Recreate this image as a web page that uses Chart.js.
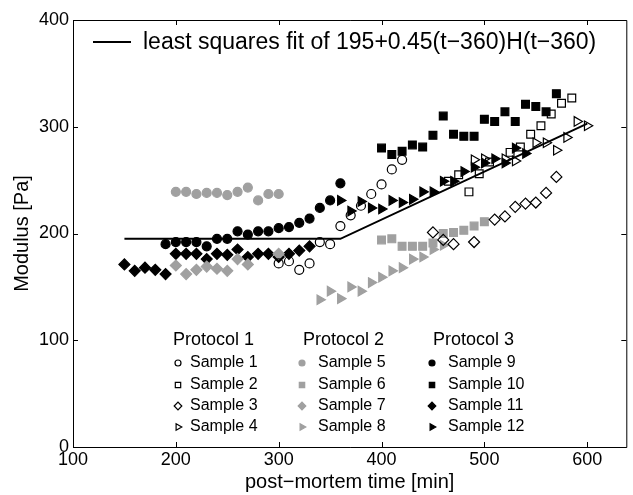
<!DOCTYPE html>
<html>
<head>
<meta charset="utf-8">
<script src="https://cdn.jsdelivr.net/npm/chart.js@4.4.0/dist/chart.umd.min.js"></script>
<style>
  html, body { margin: 0; padding: 0; background: #fff; overflow: hidden; }
</style>
</head>
<body>
<canvas id="grafica" width="633" height="495"></canvas>
<script>
// ticks
const xTicks = [100, 200, 300, 400, 500, 600];
const yTicks = [0, 100, 200, 300, 400];

// fit 195+0.45(t-360)H(t-360)
const fitT = [150, 360, 600];
const fitModulus = [195, 195, 303];

const protocolNames = ['Protocol 1', 'Protocol 2', 'Protocol 3'];
const sampleNames = ['Sample 1', 'Sample 2', 'Sample 3', 'Sample 4',
  'Sample 5', 'Sample 6', 'Sample 7', 'Sample 8',
  'Sample 9', 'Sample 10', 'Sample 11', 'Sample 12'];

// Protocol 1
const s1T = [300, 310, 320, 330, 340, 350, 360, 370, 380, 390, 400, 410, 420];
const s1M = [172, 174, 166, 172, 192, 190, 207, 217, 226, 237, 246, 260, 269];
const s2T = [465, 475, 485, 495, 505, 525, 535, 545, 555, 565, 575, 585];
const s2M = [249, 255, 239, 256, 267, 276, 281, 293, 301, 312, 322, 327];
const s3T = [450, 460, 470, 490, 510, 520, 530, 540, 550, 560, 570];
const s3M = [201, 194, 190, 192, 213, 216, 225, 228, 229, 238, 253];
const s4T = [490, 500, 520, 530, 550, 560, 570, 580, 590, 600];
const s4M = [269, 270, 270, 268, 285, 285, 278, 290, 305, 301];

// Protocol 2
const s5T = [200, 210, 220, 230, 240, 250, 260, 270, 280, 290, 300];
const s5M = [239, 239, 237, 238, 238, 236, 239, 243, 231, 237, 237];
const s6T = [400, 410, 420, 430, 440, 450, 460, 470, 480, 490, 500];
const s6M = [194, 195, 188, 188, 188, 191, 200, 201, 203, 207, 211];
const s7T = [200, 210, 220, 230, 240, 250, 260, 270, 300];
const s7M = [170, 162, 166, 169, 167, 165, 176, 171, 181];
const s8T = [340, 350, 360, 370, 380, 390, 400, 410, 420, 430, 440, 450, 460];
const s8M = [138, 146, 139, 150, 146, 154, 159, 165, 168, 176, 178, 185, 189];

// Protocol 3
const s9T = [190, 200, 210, 220, 230, 240, 250, 260, 270, 280, 290, 300, 310, 320, 330, 340, 350, 360];
const s9M = [190, 192, 192, 192, 188, 195, 195, 202, 199, 202, 202, 205, 206, 210, 214, 224, 231, 247];
const s10T = [400, 410, 420, 430, 440, 450, 460, 470, 480, 490, 500, 510, 520, 530, 540, 550, 560, 570];
const s10M = [280, 274, 277, 283, 281, 292, 310, 293, 291, 291, 307, 305, 314, 305, 321, 319, 314, 331];
const s11T = [150, 160, 170, 180, 190, 200, 210, 220, 230, 240, 250, 260, 270, 280, 290, 300, 310, 320, 330];
const s11M = [171, 165, 168, 166, 162, 181, 181, 181, 176, 181, 180, 185, 178, 181, 181, 178, 181, 184, 188];
const s12T = [360, 370, 380, 390, 400, 410, 420, 430, 440, 450, 460, 470, 480, 490, 500, 510, 520, 530, 540];
const s12M = [231, 221, 230, 224, 223, 231, 229, 232, 239, 239, 249, 249, 258, 262, 266, 270, 266, 280, 275];

const allT = [s1T, s2T, s3T, s4T, s5T, s6T, s7T, s8T, s9T, s10T, s11T, s12T];
const allM = [s1M, s2M, s3M, s4M, s5M, s6M, s7M, s8M, s9M, s10M, s11M, s12M];

const gris = '#a0a0a0';
const FONT = "'Liberation Sans', Arial, sans-serif";

// marcador por fila, color por columna
const estilos = [
  { pointStyle: 'circle', rotation: 0, radius: 4.5 },
  { pointStyle: 'rect', rotation: 0, radius: 5.5 },
  { pointStyle: 'rectRot', rotation: 0, radius: 5.5 },
  { pointStyle: 'triangle', rotation: 90, radius: 5.5 }
];
const columnas = [
  { fill: 'rgba(0,0,0,0)', stroke: '#000' },
  { fill: gris, stroke: gris },
  { fill: '#000', stroke: '#000' }
];

function puntos(ts, ms) {
  return ts.map((t, i) => ({ x: t, y: ms[i] }));
}

const datasets = [{
  type: 'line',
  label: 'fit',
  data: puntos(fitT, fitModulus),
  borderColor: '#000',
  borderWidth: 2,
  pointRadius: 0,
  fill: false,
  tension: 0
}];

allT.forEach((ts, i) => {
  const e = estilos[i % 4];
  const c = columnas[Math.floor(i / 4)];
  datasets.push({
    type: 'scatter',
    label: sampleNames[i],
    data: puntos(ts, allM[i]),
    pointStyle: e.pointStyle,
    rotation: e.rotation,
    pointRadius: e.radius,
    pointHoverRadius: e.radius,
    backgroundColor: c.fill,
    borderColor: c.stroke,
    borderWidth: 1.2
  });
});

function marcador(ctx, e, c, x, y, r) {
  ctx.fillStyle = c.fill;
  ctx.strokeStyle = c.stroke;
  ctx.lineWidth = 1.2;
  Chart.helpers.drawPoint(ctx, { pointStyle: e.pointStyle, rotation: e.rotation, radius: r, borderWidth: 1.2 }, x, y);
}

const marcoPlugin = {
  id: 'marco',
  afterDraw(chart) {
    const { ctx, chartArea: a, scales: { x, y } } = chart;
    ctx.save();
    ctx.strokeStyle = '#000';
    ctx.lineWidth = 1;
    ctx.beginPath();
    ctx.rect(a.left + 0.5, a.top + 0.5, a.right - a.left, a.bottom - a.top);
    xTicks.forEach(v => {
      const px = Math.round(x.getPixelForValue(v)) + 0.5;
      ctx.moveTo(px, a.bottom); ctx.lineTo(px, a.bottom - 5);
      ctx.moveTo(px, a.top); ctx.lineTo(px, a.top + 5);
    });
    yTicks.forEach(v => {
      const py = Math.round(y.getPixelForValue(v)) + 0.5;
      ctx.moveTo(a.left, py); ctx.lineTo(a.left + 5, py);
      ctx.moveTo(a.right, py); ctx.lineTo(a.right - 5, py);
    });
    ctx.stroke();

    // leyenda del ajuste
    ctx.lineWidth = 2;
    ctx.beginPath();
    ctx.moveTo(93, 42); ctx.lineTo(131, 42);
    ctx.stroke();
    ctx.fillStyle = '#000';
    ctx.font = '23px ' + FONT;
    ctx.textBaseline = 'middle';
    ctx.textAlign = 'left';
    ctx.fillText('least squares fit of 195+0.45(t\u2212360)H(t\u2212360)', 143, 43);

    // leyenda de protocolos
    const headX = [173, 303, 433];
    const markX = [178, 302, 432];
    const textX = [190, 318, 448];
    const rowY = [363, 385, 406, 427];
    protocolNames.forEach((p, col) => {
      ctx.fillStyle = '#000';
      ctx.font = '18px ' + FONT;
      ctx.fillText(p, headX[col], 340);
      for (let row = 0; row < 4; row++) {
        const i = col * 4 + row;
        marcador(ctx, estilos[row], columnas[col], markX[col], rowY[row], row === 0 ? 3 : 3.8);
        ctx.fillStyle = '#000';
        ctx.font = '16px ' + FONT;
        ctx.fillText(sampleNames[i], textX[col], rowY[row]);
      }
    });
    ctx.restore();
  }
};

new Chart(document.getElementById('grafica').getContext('2d'), {
  type: 'scatter',
  data: { datasets },
  options: {
    responsive: false,
    animation: false,
    layout: { padding: { top: 20, right: 0, left: 0, bottom: 0 } },
    plugins: { legend: { display: false }, tooltip: { enabled: false } },
    scales: {
      x: {
        type: 'linear',
        min: 100,
        max: 638,
        afterBuildTicks: s => { s.ticks = xTicks.map(v => ({ value: v })); },
        afterFit: s => { s.height = 48; },
        grid: { display: false, drawTicks: false },
        border: { display: false },
        ticks: { color: '#000', font: { family: FONT, size: 18 }, padding: 2, maxRotation: 0 },
        title: { display: true, text: 'post\u2212mortem time [min]', color: '#000',
          font: { family: FONT, size: 20 }, padding: { top: 0, bottom: 1 } }
      },
      y: {
        min: 0,
        max: 400,
        afterBuildTicks: s => { s.ticks = yTicks.map(v => ({ value: v })); },
        afterFit: s => { s.width = 73; },
        grid: { display: false, drawTicks: false },
        border: { display: false },
        ticks: { color: '#000', font: { family: FONT, size: 18 }, padding: 4 },
        title: { display: true, text: 'Modulus [Pa]', color: '#000',
          font: { family: FONT, size: 20 }, padding: { top: 10, bottom: 0 } }
      }
    }
  },
  plugins: [marcoPlugin]
});
</script>
</body>
</html>
